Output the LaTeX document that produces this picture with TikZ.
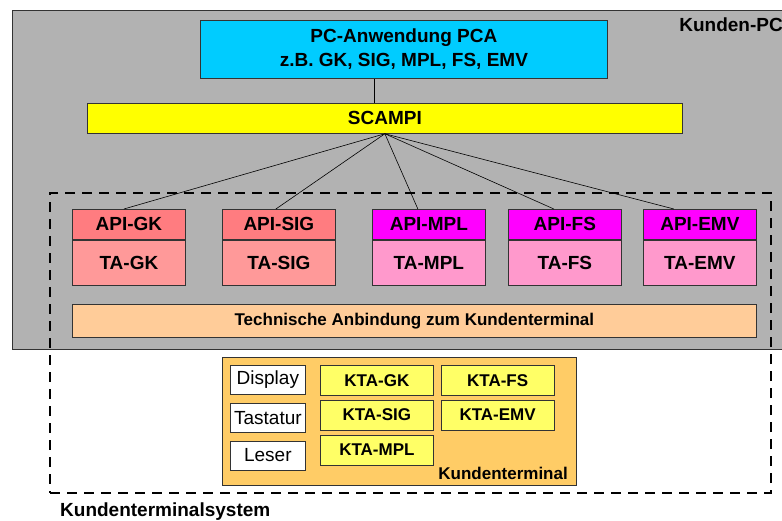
\documentclass[tikz,border=0pt]{standalone}
\usepackage{fontspec}
\setmainfont{Liberation Sans}
\usepackage{xcolor}
\usetikzlibrary{positioning}
\definecolor{pcgray}{HTML}{B2B2B2}
\definecolor{pcacyan}{HTML}{00CCFF}
\definecolor{scampiyellow}{HTML}{FFFF00}
\definecolor{apired}{HTML}{FF7C80}
\definecolor{tared}{HTML}{FF9999}
\definecolor{apimag}{HTML}{FF00FF}
\definecolor{tapink}{HTML}{FF99CC}
\definecolor{techorange}{HTML}{FFCC99}
\definecolor{ktorange}{HTML}{FFCC66}
\definecolor{ktayellow}{HTML}{FFFF66}
\tikzset{
  kbox/.style={draw=black!80, line width=0.75pt, inner sep=0pt, align=center, anchor=north west, font=\bfseries\fontsize{19}{24}\selectfont},
  klink/.style={draw=black, line width=0.6pt},
  klabel/.style={inner sep=0pt, font=\bfseries\fontsize{19}{24}\selectfont},
}

\begin{document}
\begin{tikzpicture}[x=1pt, y=-1pt,
  apibox/.style={kbox, minimum width=113pt, minimum height=30pt},
  tabox/.style={kbox, minimum width=113pt, minimum height=45pt},
  ktabox/.style={kbox, fill=ktayellow, minimum width=113pt, minimum height=30pt, font=\bfseries\fontsize{17}{20}\selectfont},
  devbox/.style={kbox, fill=white, minimum width=75pt, minimum height=29pt, font=\fontsize{19}{22}\selectfont},
]
  \useasboundingbox (0,0) rectangle (782,520);
  \node[kbox, fill=pcgray, minimum width=800pt, minimum height=339pt] (pc) at (12,10) {};
  \node[klabel, anchor=base east] (pclbl) at (783,31) {Kunden-PC};

  \node[kbox, fill=pcacyan, minimum width=407pt, minimum height=58pt] (pca) at (200,20) {PC-Anwendung PCA\\z.B. GK, SIG, MPL, FS, EMV};
  \node[kbox, fill=scampiyellow, minimum width=595pt, minimum height=30pt] (scampi) at (87,103) {SCAMPI};

  \node[draw, line width=2.2pt, dash pattern=on 10pt off 7pt, anchor=north west, minimum width=721pt, minimum height=300pt, inner sep=0pt] (ktsys) at (49,192) {};
  \node[klabel, anchor=base west] (ktsyslbl) at (60,516) {Kundenterminalsystem};

  \foreach \nm/\x/\ca/\ct in {GK/72/apired/tared, SIG/222/apired/tared, MPL/372/apimag/tapink, FS/508/apimag/tapink, EMV/643/apimag/tapink} {
    \node[apibox, fill=\ca] (api\nm) at (\x,209) {API-\nm};
    \node[tabox, fill=\ct, below=0pt of api\nm] (ta\nm) {TA-\nm};
  }
  \node[kbox, fill=techorange, minimum width=684pt, minimum height=33pt, font=\bfseries\fontsize{17}{20}\selectfont] (tech) at (72,304) {Technische Anbindung zum Kundenterminal};

  \node[kbox, fill=ktorange, minimum width=354pt, minimum height=128pt] (kt) at (222,357) {};
  \node[inner sep=0pt, anchor=base east, font=\bfseries\fontsize{17}{20}\selectfont] (ktlbl) at (568,479) {Kundenterminal};
  \node[devbox] (display) at (230,365) {Display};
  \node[devbox, below=8pt of display] (tastatur) {Tastatur};
  \node[devbox, below=8pt of tastatur] (leser) {Leser};
  \node[ktabox] (ktaGK) at (320,365) {KTA-GK};
  \node[ktabox, below=4pt of ktaGK] (ktaSIG) {KTA-SIG};
  \node[ktabox, below=4pt of ktaSIG] (ktaMPL) {KTA-MPL};
  \node[ktabox, right=7pt of ktaGK] (ktaFS) {KTA-FS};
  \node[ktabox, below=4pt of ktaFS] (ktaEMV) {KTA-EMV};

  \draw[klink] ([xshift=-30pt]pca.south) -- ([xshift=-30pt]pca.south |- scampi.north);
  \foreach \nm/\dx in {GK/-5, SIG/-3, MPL/-11, FS/-11, EMV/-26}
    \draw[klink] (scampi.south) -- ([xshift=\dx pt]api\nm.north);
\end{tikzpicture}
\end{document}
